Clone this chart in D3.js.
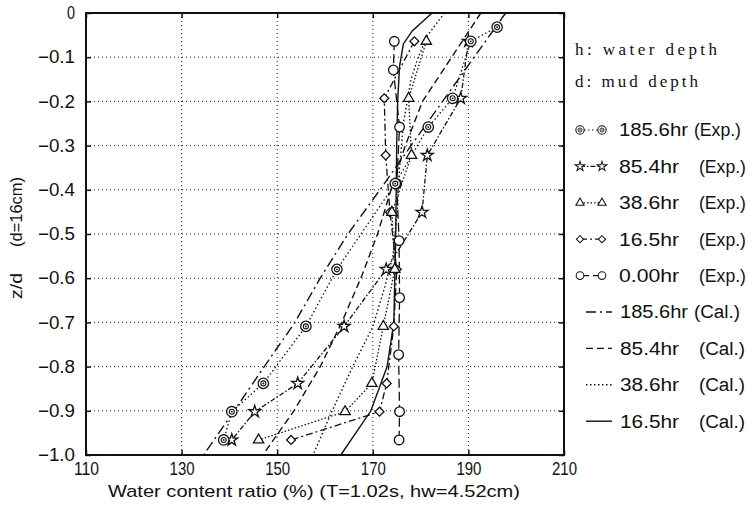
<!DOCTYPE html>
<html>
<head>
<meta charset="utf-8">
<script src="https://cdn.jsdelivr.net/npm/d3@7"></script>
<style>
  body { margin: 0; background: #fff; }
  text { fill: #111; }
</style>
</head>
<body>
<svg id="chart" width="749" height="518"></svg>
<script>
// ---- axis ticks ----
const xTickValues = [110, 130, 150, 170, 190, 210];
const yTickValues = [0, -0.1, -0.2, -0.3, -0.4, -0.5, -0.6, -0.7, -0.8, -0.9, -1.0];

// ---- measured profiles (z/d, water content ratio %) ----
const exp185Depth = [-0.032, -0.064, -0.193, -0.258, -0.386, -0.580, -0.709, -0.838, -0.902, -0.966];
const exp185Water = [196.0, 190.5, 186.7, 181.6, 174.7, 162.5, 156.0, 147.1, 140.5, 138.8];

const exp85Depth = [-0.064, -0.193, -0.322, -0.451, -0.580, -0.709, -0.838, -0.902, -0.966];
const exp85Water = [190.0, 188.4, 181.4, 180.3, 172.8, 164.0, 154.3, 145.3, 140.5];

const exp38Depth = [-0.064, -0.193, -0.322, -0.451, -0.580, -0.709, -0.838, -0.902, -0.966];
const exp38Water = [181.2, 177.5, 178.1, 174.0, 174.6, 172.2, 169.8, 164.2, 146.1];

const exp16Depth = [-0.064, -0.193, -0.322, -0.451, -0.580, -0.709, -0.838, -0.902, -0.966];
const exp16Water = [178.7, 172.4, 172.7, 173.6, 175.0, 174.4, 172.9, 171.4, 152.9];

const exp0Depth = [-0.064, -0.129, -0.258, -0.386, -0.515, -0.644, -0.773, -0.902, -0.966];
const exp0Water = [174.5, 174.3, 175.6, 175.0, 175.5, 175.6, 175.4, 175.6, 175.5];

// ---- calculated profiles ----
const cal185Depth = [0, -0.1, -0.2, -0.3, -0.4, -0.5, -0.6, -0.7, -0.8, -0.9, -1.0];
const cal185Water = [197.8, 191.2, 184.6, 178.0, 171.5, 164.8, 159.0, 153.7, 147.3, 141.0, 134.6];

const cal85Depth = [0, -0.1, -0.2, -0.3, -0.4, -0.5, -0.6, -0.7, -0.8, -0.9, -1.0];
const cal85Water = [192.6, 186.5, 180.4, 176.8, 173.8, 171.0, 167.5, 163.5, 159.0, 153.5, 147.0];

const cal38Depth = [0, -0.05, -0.1, -0.15, -0.25, -0.35, -0.45, -0.55, -0.62, -0.71, -0.8, -0.9, -1.0];
const cal38Water = [185.0, 181.5, 179.5, 178.0, 176.4, 175.6, 175.1, 174.2, 172.5, 170.0, 165.8, 161.5, 157.5];

const cal16Depth = [0, -0.04, -0.07, -0.12, -0.2, -0.3, -0.5, -0.7, -0.8, -0.9, -1.0];
const cal16Water = [182.4, 178.3, 176.4, 175.6, 175.2, 175.0, 174.8, 174.4, 173.0, 169.6, 163.3];

// ---- legend texts ----
const noteLines = ["h: water depth", "d: mud depth"];
const expLabels = ["185.6hr", "85.4hr", "38.6hr", "16.5hr", "0.00hr"];
const calLabels = ["185.6hr", "85.4hr", "38.6hr", "16.5hr"];

const zip = (zs, ws) => zs.map((z, i) => ({ z, w: ws[i] }));

const expSeries = [
  { label: expLabels[0], pts: zip(exp185Depth, exp185Water), mark: "ring",     dash: "1.5,2.5" },
  { label: expLabels[1], pts: zip(exp85Depth,  exp85Water),  mark: "star",     dash: "5,2,1.5,2" },
  { label: expLabels[2], pts: zip(exp38Depth,  exp38Water),  mark: "triangle", dash: "1.5,2" },
  { label: expLabels[3], pts: zip(exp16Depth,  exp16Water),  mark: "diamond",  dash: "7,3,2,3" },
  { label: expLabels[4], pts: zip(exp0Depth,   exp0Water),   mark: "circle",   dash: "9,4" }
];
const calSeries = [
  { label: calLabels[0], pts: zip(cal185Depth, cal185Water), dash: "10,4,2,4" },
  { label: calLabels[1], pts: zip(cal85Depth,  cal85Water),  dash: "7,4" },
  { label: calLabels[2], pts: zip(cal38Depth,  cal38Water),  dash: "1.5,2.5" },
  { label: calLabels[3], pts: zip(cal16Depth,  cal16Water),  dash: null }
];

const svg = d3.select("#chart");
const plotLeft = 86, plotRight = 564, plotTop = 13, plotBottom = 455;
const x = d3.scaleLinear().domain([110, 210]).range([plotLeft, plotRight]);
const y = d3.scaleLinear().domain([-1, 0]).range([plotBottom, plotTop]);

const sansFont = "'Liberation Sans','Arial',sans-serif";
const serifFont = "'Liberation Serif','DejaVu Serif',serif";

// condensed-looking text: fixed width, glyphs squeezed to fit
function fitText(sel, width) {
  sel.attr("textLength", width).attr("lengthAdjust", "spacingAndGlyphs");
}

// dotted grid
const grid = svg.append("g").attr("stroke", "#222").attr("stroke-width", 1).attr("stroke-dasharray", "1,3");
grid.selectAll("line.gx").data(xTickValues.slice(1, -1)).join("line")
  .attr("x1", d => x(d)).attr("x2", d => x(d)).attr("y1", plotTop).attr("y2", plotBottom);
grid.selectAll("line.gy").data(yTickValues.slice(1, -1)).join("line")
  .attr("y1", d => y(d)).attr("y2", d => y(d)).attr("x1", plotLeft).attr("x2", plotRight);

// axes with inward ticks
const fmtY = v => v === 0 ? "0" : "\u2212" + Math.abs(v).toFixed(1);
const axL = svg.append("g").attr("transform", `translate(${plotLeft},0)`)
  .call(d3.axisLeft(y).tickValues(yTickValues).tickSize(-5).tickPadding(11).tickFormat(fmtY));
const axR = svg.append("g").attr("transform", `translate(${plotRight},0)`)
  .call(d3.axisRight(y).tickValues(yTickValues).tickSize(-5).tickFormat(""));
const axB = svg.append("g").attr("transform", `translate(0,${plotBottom})`)
  .call(d3.axisBottom(x).tickValues(xTickValues).tickSize(-5).tickPadding(7).tickFormat(d3.format("d")));
const axT = svg.append("g").attr("transform", `translate(0,${plotTop})`)
  .call(d3.axisTop(x).tickValues(xTickValues).tickSize(-5).tickFormat(""));
[axL, axR, axB, axT].forEach(a => {
  a.select(".domain").remove();
  a.selectAll(".tick line").attr("stroke", "#111").attr("stroke-width", 1.5);
  a.selectAll("text").attr("font-family", sansFont).attr("font-size", 18).attr("fill", "#111");
});
axL.selectAll(".tick text").each(function (d) { fitText(d3.select(this), d === 0 ? 8 : 37); });
axB.selectAll(".tick text").each(function () { fitText(d3.select(this), 25); });

// frame
svg.append("rect").attr("x", plotLeft).attr("y", plotTop)
  .attr("width", plotRight - plotLeft).attr("height", plotBottom - plotTop)
  .attr("fill", "none").attr("stroke", "#111").attr("stroke-width", 2);

// axis titles
svg.append("text").attr("x", 108).attr("y", 497)
  .attr("font-family", sansFont).attr("font-size", 17)
  .call(fitText, 412)
  .text("Water content ratio (%) (T=1.02s, hw=4.52cm)");
svg.append("text").attr("transform", "translate(22,286) rotate(-90)")
  .attr("text-anchor", "middle").attr("font-family", sansFont).attr("font-size", 17)
  .call(fitText, 26).text("z/d");
svg.append("text").attr("transform", "translate(22,212) rotate(-90)")
  .attr("text-anchor", "middle").attr("font-family", sansFont).attr("font-size", 17)
  .call(fitText, 70).text("(d=16cm)");

// markers
function marker(g, kind, cx, cy, k = 1) {
  const m = g.append("g").attr("transform", `translate(${cx},${cy}) scale(${k})`)
    .attr("fill", "#fff").attr("stroke", "#111").attr("stroke-width", 1.3);
  if (kind === "ring") {
    m.append("circle").attr("r", 5.2);
    m.append("circle").attr("r", 2.5).attr("stroke-width", 1.1);
    m.append("circle").attr("r", 0.9).attr("fill", "#111").attr("stroke", "none");
  } else if (kind === "star") {
    m.append("path").attr("d", d3.symbol(d3.symbolStar, 44)());
  } else if (kind === "triangle") {
    m.append("path").attr("d", d3.symbol(d3.symbolTriangle, 46)());
  } else if (kind === "diamond") {
    m.append("path").attr("d", d3.symbol(d3.symbolSquare, 40)()).attr("transform", "rotate(45)");
  } else {
    m.append("circle").attr("r", 4.8);
  }
}

const line = d3.line().x(d => x(d.w)).y(d => y(d.z));
const plot = svg.append("g");

calSeries.forEach(s => {
  plot.append("path").datum(s.pts).attr("d", line)
    .attr("fill", "none").attr("stroke", "#111").attr("stroke-width", 1.4)
    .attr("stroke-dasharray", s.dash);
});
expSeries.forEach(s => {
  plot.append("path").datum(s.pts).attr("d", line)
    .attr("fill", "none").attr("stroke", "#111").attr("stroke-width", 1.3)
    .attr("stroke-dasharray", s.dash);
});
expSeries.slice().reverse().forEach(s => {
  s.pts.forEach(p => marker(plot, s.mark, x(p.w), y(p.z)));
});

// legend
const lg = svg.append("g");
noteLines.forEach((t, i) => {
  lg.append("text").attr("x", 575).attr("y", 49 + i * 32).attr("dy", "0.35em")
    .attr("font-family", serifFont).attr("font-size", 17)
    .attr("textLength", i === 0 ? 142 : 123).attr("lengthAdjust", "spacing").text(t);
});
const rowY = i => 130 + i * 36.4;
function legendText(txt, x0, yy, width) {
  lg.append("text").attr("x", x0).attr("y", yy).attr("dy", "0.36em")
    .attr("font-family", sansFont).attr("font-size", 18)
    .call(fitText, width).text(txt);
}
expSeries.forEach((s, i) => {
  const yy = rowY(i);
  lg.append("line").attr("x1", 580).attr("x2", 602).attr("y1", yy).attr("y2", yy)
    .attr("stroke", "#111").attr("stroke-width", 1.2).attr("stroke-dasharray", s.dash);
  marker(lg, s.mark, 580, yy, 0.8);
  marker(lg, s.mark, 602, yy, 0.8);
  legendText(s.label, 619, yy, i === 0 ? 69 : 60);
  legendText("(Exp.)", i === 0 ? 694 : 699, yy, 47);
});
calSeries.forEach((s, j) => {
  const yy = rowY(expSeries.length + j);
  lg.append("line").attr("x1", 586).attr("x2", 612).attr("y1", yy).attr("y2", yy)
    .attr("stroke", "#111").attr("stroke-width", 1.4).attr("stroke-dasharray", s.dash);
  legendText(s.label, 620, yy, j === 0 ? 68 : 59);
  legendText("(Cal.)", j === 0 ? 694 : 699, yy, 46);
});
</script>
</body>
</html>
